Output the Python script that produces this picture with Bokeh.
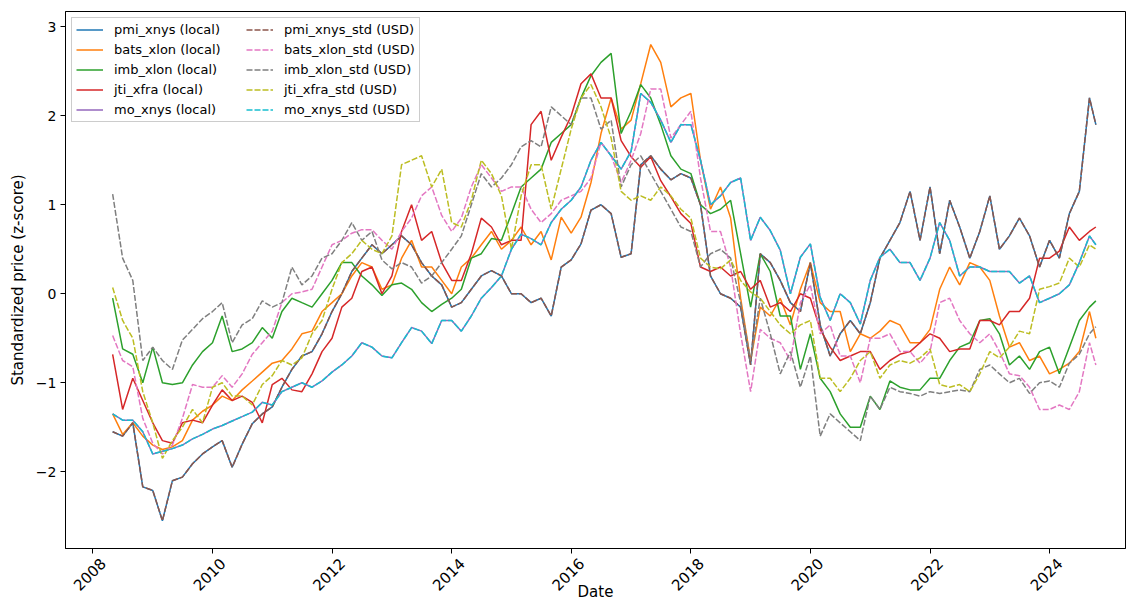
import math
import pandas as pd
from bokeh.plotting import figure
from bokeh.models import (Range1d, FixedTicker, DatetimeTickFormatter, Legend, LegendItem,
                          DatetimeAxis, CustomJSTickFormatter)
from bokeh.embed import file_html
from bokeh.resources import INLINE

# ---------------- data ----------------
# observation dates: every two months from May 2008, plus the last observation
dates = list(pd.date_range("2008-05-01", periods=99, freq="2MS")) + [pd.Timestamp("2024-10-10")]

pmi_xnys = [
    -1.55, -1.60, -1.45, -2.17, -2.21, -2.55, -2.10, -2.06, -1.91, -1.80, -1.72, -1.65, -1.95, -1.69, -1.46, -1.35, -1.27,
    -1.05, -0.85, -0.70, -0.65, -0.45, -0.20, 0.00, 0.25, 0.40, 0.55, 0.45, 0.55, 0.65, 0.55, 0.35, 0.20, 0.10, -0.15, -0.10, 0.05, 0.20,
    0.26, 0.20, 0.00, 0.00, -0.10, -0.05, -0.25, 0.30, 0.38, 0.56, 0.94, 1.00, 0.90, 0.41, 0.45, 1.45, 1.55, 1.40, 1.28, 1.35, 1.30, 1.00,
    0.20, 0.00, -0.05, -0.15, -0.80, 0.45, 0.35, 0.15, -0.10, -0.20, 0.35, -0.35, -0.70, -0.45, -0.30, -0.45, -0.10, 0.40, 0.60, 0.80, 1.15, 0.60,
    1.20, 0.45, 1.05, 0.75, 0.40, 0.70, 1.10, 0.50, 0.65, 0.85, 0.65, 0.30, 0.60, 0.40, 0.90, 1.15, 2.20, 1.90,
]
mo_xnys = [
    -1.35, -1.42, -1.42, -1.55, -1.80, -1.77, -1.74, -1.70, -1.63, -1.58, -1.52, -1.48, -1.43, -1.38, -1.33, -1.22, -1.25,
    -1.10, -1.05, -1.00, -1.05, -0.98, -0.88, -0.80, -0.70, -0.55, -0.60, -0.70, -0.72, -0.55, -0.38, -0.42, -0.56, -0.30, -0.30, -0.42, -0.25, -0.05,
    0.07, 0.20, 0.50, 0.67, 0.62, 0.55, 0.80, 0.95, 1.05, 1.20, 1.50, 1.70, 1.55, 1.40, 1.60, 2.25, 2.15, 1.95, 1.70, 1.90, 1.90, 1.50,
    1.00, 1.10, 1.25, 1.30, 0.60, 0.86, 0.71, 0.49, 0.00, 0.41, 0.56, -0.04, -0.30, 0.00, -0.10, -0.34, 0.15, 0.41, 0.50, 0.35, 0.35, 0.15,
    0.40, 0.80, 0.60, 0.20, 0.30, 0.30, 0.25, 0.25, 0.25, 0.12, 0.20, -0.10, -0.05, 0.00, 0.10, 0.35, 0.65, 0.55,
]
bats_xlon = [
    -1.35, -1.58, -1.45, -1.60, -1.70, -1.75, -1.72, -1.65, -1.42, -1.32, -1.25, -1.15, -1.20, -1.08, -0.98, -0.88, -0.78,
    -0.75, -0.62, -0.45, -0.42, -0.20, -0.10, 0.00, 0.20, 0.35, 0.30, 0.05, 0.10, 0.40, 0.60, 0.30, 0.30, 0.15, 0.00, 0.30, 0.40, 0.55,
    0.70, 0.50, 0.60, 0.75, 0.55, 0.70, 0.38, 0.86, 0.68, 0.86, 1.25, 1.80, 2.20, 1.85, 1.95, 2.36, 2.80, 2.60, 2.10, 2.20, 2.25, 1.50,
    0.95, 1.20, 0.85, -0.05, -0.75, -0.15, -0.25, -0.05, -0.35, 0.05, 0.35, -0.10, -0.20, -0.20, -0.65, -0.45, -0.50, -0.42, -0.30, -0.35, -0.55, -0.55,
    -0.40, 0.05, 0.30, 0.10, 0.35, 0.30, 0.15, -0.25, -0.60, -0.55, -0.75, -0.70, -0.90, -0.85, -0.78, -0.65, -0.20, -0.50,
]
imb_xlon = [
    -0.05, -0.62, -0.68, -1.00, -0.60, -1.00, -1.02, -1.00, -0.80, -0.65, -0.55, -0.25, -0.65, -0.62, -0.55, -0.38, -0.50,
    -0.20, -0.05, -0.10, -0.15, 0.00, 0.15, 0.35, 0.35, 0.20, 0.10, -0.02, 0.10, 0.12, 0.05, -0.10, -0.20, -0.12, -0.05, 0.05, 0.40, 0.45,
    0.62, 0.60, 0.90, 1.20, 1.30, 1.40, 1.70, 1.80, 1.90, 2.20, 2.45, 2.60, 2.70, 1.80, 2.05, 2.35, 2.20, 1.90, 1.55, 1.40, 1.35, 1.00,
    0.90, 0.95, 1.05, 0.45, -0.15, 0.45, 0.25, -0.25, -0.25, -0.85, -0.45, -0.95, -1.10, -1.35, -1.50, -1.50, -1.15, -1.30, -0.98, -1.05, -1.08, -1.08,
    -0.95, -0.95, -0.75, -0.60, -0.55, -0.30, -0.28, -0.45, -0.80, -0.70, -0.85, -0.65, -0.60, -0.90, -0.60, -0.30, -0.15, -0.08,
]
jti_xfra = [
    -0.68, -1.30, -0.95, -1.20, -1.45, -1.65, -1.68, -1.45, -1.42, -1.45, -1.25, -1.08, -1.20, -1.15, -1.22, -1.45, -1.02,
    -0.95, -1.08, -1.10, -0.90, -0.65, -0.50, -0.15, -0.05, 0.25, 0.30, 0.00, 0.20, 0.70, 1.00, 0.60, 0.70, 0.35, 0.15, 0.15, 0.45, 0.85,
    0.75, 0.55, 0.60, 0.60, 1.90, 2.05, 1.50, 1.76, 2.00, 2.36, 2.47, 2.20, 2.20, 1.72, 1.54, 1.42, 1.54, 1.27, 1.09, 0.90, 0.79, 0.30,
    0.25, 0.30, 0.20, 0.25, 0.05, 0.15, -0.15, -0.10, -0.20, 0.00, -0.05, -0.40, -0.60, -0.75, -0.70, -0.65, -0.65, -0.85, -0.75, -0.68, -0.65, -0.55,
    -0.45, -0.50, -0.65, -0.62, -0.62, -0.30, -0.30, -0.35, -0.20, -0.20, -0.05, 0.40, 0.40, 0.48, 0.75, 0.60, 0.70, 0.75,
]
# USD versions (pmi and mo already trade in USD, so they coincide with the local series)
pmi_xnys_std = list(pmi_xnys)
mo_xnys_std = list(mo_xnys)
bats_xlon_std = [
    -0.47, -0.75, -0.82, -1.40, -1.68, -1.80, -1.70, -1.40, -1.02, -1.05, -1.05, -0.92, -1.05, -0.90, -0.68, -0.55, -0.42,
    -0.10, 0.00, 0.02, 0.05, 0.30, 0.55, 0.60, 0.68, 0.72, 0.72, 0.60, 0.50, 0.70, 0.85, 1.10, 1.20, 0.88, 0.70, 0.85, 1.20, 1.45,
    1.30, 1.15, 1.20, 1.20, 0.95, 0.80, 0.90, 1.05, 1.10, 1.15, 1.30, 1.70, 1.55, 1.25, 1.50, 1.80, 2.30, 2.30, 1.75, 1.90, 2.05, 1.30,
    0.70, 0.70, 0.30, -0.45, -1.10, -0.40, -0.50, -0.55, -0.75, -0.10, 0.10, -0.45, -0.35, -0.70, -0.70, -1.00, -0.50, -0.50, -0.45, -0.65, -0.65, -0.78,
    -0.65, -0.10, -0.05, -0.30, -0.45, -0.55, -0.45, -0.65, -0.90, -0.92, -1.05, -1.30, -1.30, -1.25, -1.30, -1.10, -0.55, -0.80,
]
imb_xlon_std = [
    1.12, 0.40, 0.15, -0.75, -0.60, -0.75, -0.85, -0.52, -0.40, -0.28, -0.20, -0.10, -0.55, -0.35, -0.28, -0.08, -0.15,
    -0.10, 0.30, 0.10, 0.20, 0.40, 0.45, 0.60, 0.80, 0.60, 0.70, 0.38, 0.28, 0.35, 0.30, 0.12, 0.20, 0.35, 0.50, 0.65, 1.00, 1.35,
    1.20, 1.30, 1.45, 1.65, 1.72, 1.65, 2.10, 2.00, 1.90, 2.20, 2.20, 1.85, 1.95, 1.20, 1.45, 1.55, 1.35, 1.15, 0.95, 0.75, 0.70, 0.30,
    0.45, 0.50, 0.40, -0.10, -0.75, -0.05, -0.45, -0.90, -0.65, -1.05, -0.70, -1.60, -1.35, -1.45, -1.55, -1.65, -1.15, -1.30, -1.05, -1.10, -1.12, -1.15,
    -1.10, -1.12, -1.10, -1.08, -1.10, -0.85, -0.80, -0.90, -1.00, -0.95, -1.12, -1.00, -0.98, -1.05, -0.78, -0.68, -0.45, -0.37,
]
jti_xfra_std = [
    0.07, -0.30, -0.50, -1.10, -1.45, -1.85, -1.65, -1.50, -1.30, -1.45, -1.05, -1.00, -1.15, -1.15, -1.25, -1.02, -0.92,
    -0.75, -0.80, -0.72, -0.45, -0.30, 0.05, 0.35, 0.45, 0.60, 0.50, 0.45, 0.65, 1.45, 1.50, 1.55, 1.20, 1.40, 0.80, 0.75, 1.05, 1.50,
    1.35, 1.10, 0.50, 1.10, 1.45, 1.45, 0.95, 1.40, 1.85, 2.20, 2.35, 2.10, 1.75, 1.15, 1.05, 1.10, 1.05, 1.20, 1.10, 0.95, 0.85, 0.40,
    0.30, 0.28, 0.38, 0.15, 0.02, -0.05, -0.20, -0.35, -0.45, -0.35, -0.30, -0.95, -0.95, -1.10, -0.95, -0.75, -0.65, -0.95, -0.80, -0.75, -0.78, -0.72,
    -0.62, -1.02, -1.05, -1.02, -1.10, -0.90, -0.65, -0.72, -0.60, -0.42, -0.45, 0.05, 0.08, 0.12, 0.40, 0.30, 0.55, 0.50,
]

tick_years = [2008, 2010, 2012, 2014, 2016, 2018, 2020, 2022, 2024]
y_ticks = [-2, -1, 0, 1, 2, 3]

local_series = [
    ("pmi_xnys (local)", pmi_xnys, "#1f77b4"),
    ("bats_xlon (local)", bats_xlon, "#ff7f0e"),
    ("imb_xlon (local)", imb_xlon, "#2ca02c"),
    ("jti_xfra (local)", jti_xfra, "#d62728"),
    ("mo_xnys (local)", mo_xnys, "#9467bd"),
]
usd_series = [
    ("pmi_xnys_std (USD)", pmi_xnys_std, "#8c564b"),
    ("bats_xlon_std (USD)", bats_xlon_std, "#e377c2"),
    ("imb_xlon_std (USD)", imb_xlon_std, "#7f7f7f"),
    ("jti_xfra_std (USD)", jti_xfra_std, "#bcbd22"),
    ("mo_xnys_std (USD)", mo_xnys_std, "#17becf"),
]

FONT = "DejaVu Sans"

p = figure(
    width=1126, height=605,
    x_axis_type="datetime",
    output_backend="svg", toolbar_location=None,
    x_range=Range1d(pd.Timestamp("2007-07-18"), pd.Timestamp("2025-04-09")),
    y_range=Range1d(-2.862, 3.171),
    min_border_left=65, min_border_right=1, min_border_top=11, min_border_bottom=57,
)
p.grid.visible = False
p.outline_line_color = "black"
p.outline_line_alpha = 1.0
p.outline_line_width = 1
p.background_fill_color = "white"
p.border_fill_color = "white"

items = []
for label, vals, color in local_series:
    r = p.line(dates, vals, line_color=color, line_width=1.5)
    items.append(LegendItem(label=label, renderers=[r]))
for label, vals, color in usd_series:
    r = p.line(dates, vals, line_color=color, line_width=1.5, line_dash="6 2")
    items.append(LegendItem(label=label, renderers=[r]))

legend = Legend(
    items=items, location="top_left", ncols=2,
    margin=6, padding=4, spacing=5,
    glyph_width=27, glyph_height=15, label_standoff=11,
    label_width=127, label_height=15,
    label_text_font=FONT, label_text_font_size="13px", label_text_color="black",
    border_line_color="#cccccc", border_line_width=1, border_line_alpha=1.0,
    background_fill_color="white", background_fill_alpha=0.8,
)
p.add_layout(legend)

# x axis: tick marks at 1 January of each labelled year
tick_ms = [pd.Timestamp(f"{y}-01-01").timestamp() * 1000 for y in tick_years]
xax = p.xaxis[0]
xax.ticker = FixedTicker(ticks=tick_ms)
xax.formatter = CustomJSTickFormatter(code="return ''")
xax.major_label_text_font_size = "1px"
xax.major_label_standoff = 0
xax.axis_line_color = "black"
xax.major_tick_line_color = "black"
xax.major_tick_out = 5
xax.major_tick_in = 0
xax.minor_tick_out = 0
xax.minor_tick_in = 0

# rotated year labels, centred under their ticks (matplotlib-style), plus the axis title
label_shift = pd.Timedelta(days=61)
label_ms = [(pd.Timestamp(f"{y}-01-01") + label_shift).timestamp() * 1000 for y in tick_years]
year_axis = DatetimeAxis(
    ticker=FixedTicker(ticks=label_ms),
    formatter=DatetimeTickFormatter(years="%Y", months="%Y", days="%Y", hours="%Y",
                                    minutes="%Y", seconds="%Y", milliseconds="%Y"),
    axis_line_color=None, major_tick_line_color=None, minor_tick_line_color=None,
    major_tick_out=0, major_tick_in=0, minor_tick_out=0, minor_tick_in=0,
    major_label_orientation=math.pi / 4, major_label_standoff=7,
    major_label_text_font=FONT, major_label_text_font_size="15px", major_label_text_color="black",
    axis_label="Date", axis_label_standoff=-16,
    axis_label_text_font=FONT, axis_label_text_font_size="15px",
    axis_label_text_font_style="normal", axis_label_text_color="black",
)
p.add_layout(year_axis, "below")

yax = p.yaxis[0]
yax.ticker = FixedTicker(ticks=y_ticks)
yax.major_label_overrides = {t: (("\u2212" + str(abs(t))) if t < 0 else str(t)) for t in y_ticks}
yax.axis_line_color = "black"
yax.major_tick_line_color = "black"
yax.major_tick_out = 5
yax.major_tick_in = 0
yax.minor_tick_out = 0
yax.minor_tick_in = 0
yax.major_label_text_font = FONT
yax.major_label_text_font_size = "14px"
yax.major_label_text_color = "black"
yax.major_label_standoff = 4
yax.axis_label = "Standardized price (z-score)"
yax.axis_label_text_font = FONT
yax.axis_label_text_font_size = "15px"
yax.axis_label_text_font_style = "normal"
yax.axis_label_text_color = "black"
yax.axis_label_standoff = 6

open("out.html", "w").write(file_html(p, INLINE))
